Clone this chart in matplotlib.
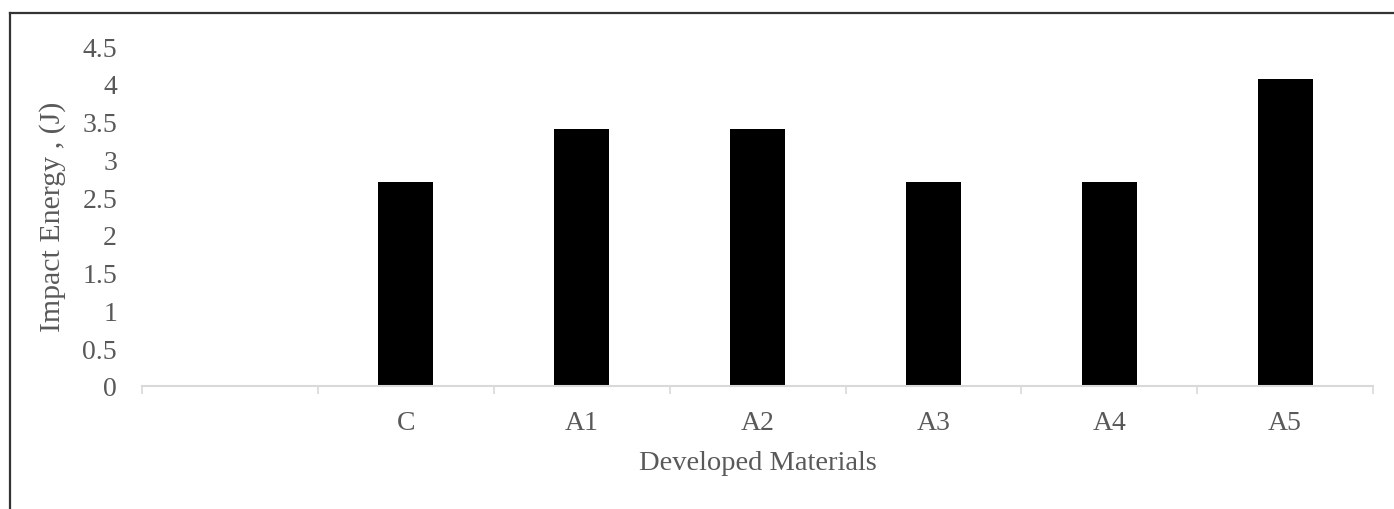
import numpy as np
import matplotlib
matplotlib.use("Agg")
import matplotlib.pyplot as plt
from matplotlib.lines import Line2D

# impact test results per material (first slot left empty)
materials = ["", "C", "A1", "A2", "A3", "A4", "A5"]
impact_energy = [0, 2.7, 3.4, 3.4, 2.7, 2.7, 4.07]
y_ticks = [0, 0.5, 1, 1.5, 2, 2.5, 3, 3.5, 4, 4.5]

text_color = "#595959"
axis_color = "#d9d9d9"

plt.rcParams["font.family"] = ["Liberation Serif", "DejaVu Serif"]

fig = plt.figure(figsize=(13.94, 5.10), dpi=100)
ax = fig.add_axes([0.1019, 0.2412, 0.985 - 0.1019, 0.9078 - 0.2412])

x = np.arange(len(materials))
ax.bar(x, impact_energy, width=0.3125, color="black")

ax.set_xlim(-0.5, len(materials) - 0.5)
ax.set_ylim(0, 4.5)

ax.set_yticks(y_ticks)
ax.set_yticklabels([f"{v:g}" for v in y_ticks])
ax.set_xticks(x)
ax.set_xticklabels(materials)
ax.set_xticks(np.arange(-0.5, len(materials)), minor=True)

ax.tick_params(axis="y", length=0, pad=18, labelsize=20, labelcolor=text_color)
ax.tick_params(axis="x", which="major", length=0, pad=17, labelsize=20, labelcolor=text_color)
ax.tick_params(axis="x", which="minor", length=6, width=1.2, color=axis_color)

for side in ["top", "right", "left"]:
    ax.spines[side].set_visible(False)
ax.spines["bottom"].set_color(axis_color)
ax.spines["bottom"].set_linewidth(1.5)

ax.set_xlabel("Developed Materials", fontsize=20.5, color=text_color, labelpad=11)
ax.set_ylabel("Impact Energy , (J)", fontsize=21.5, color=text_color, labelpad=12)

# outer frame, open at the right and bottom edges
fx0 = 10 / 1394
fy0 = 1 - 14 / 510
fig.add_artist(Line2D([fx0, 1], [fy0, fy0], transform=fig.transFigure, color="#333333", lw=1.6))
fig.add_artist(Line2D([fx0, fx0], [0, fy0], transform=fig.transFigure, color="#333333", lw=1.6))

fig.savefig("out.png", dpi=100)
